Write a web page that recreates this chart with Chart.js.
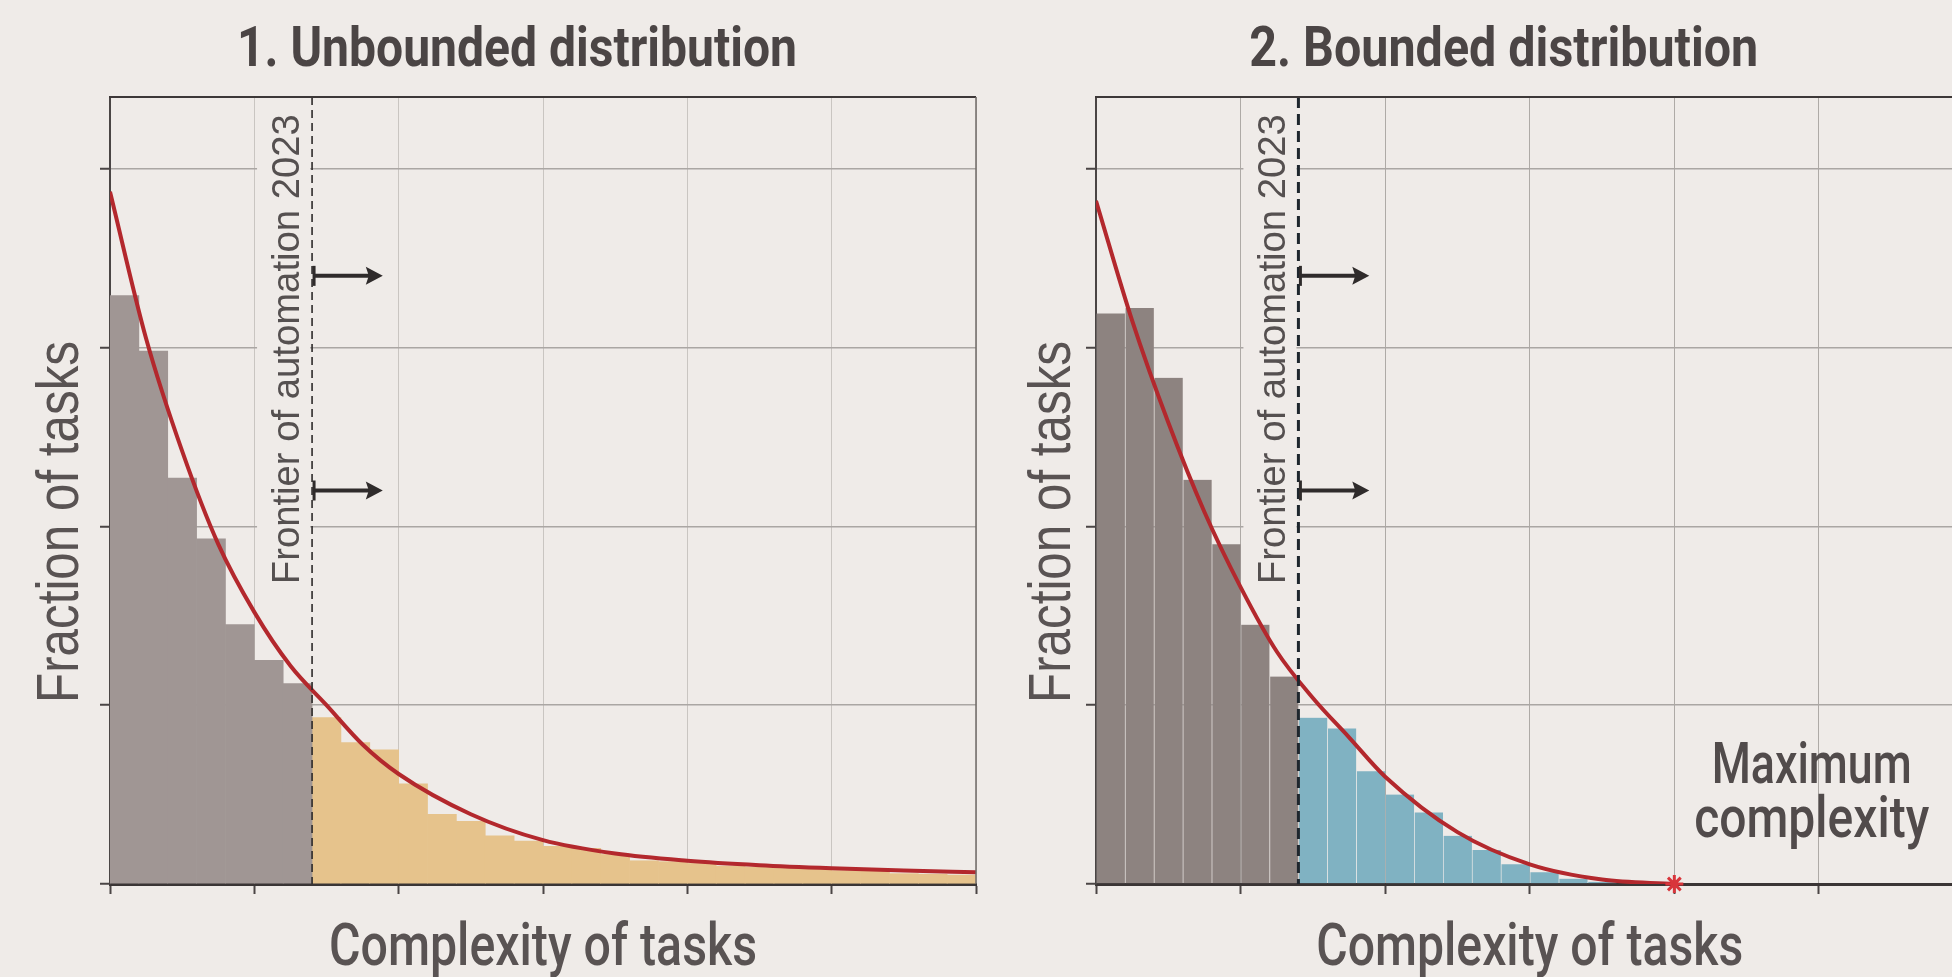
<!DOCTYPE html>
<html><head><meta charset="utf-8">
<script src="https://cdn.jsdelivr.net/npm/chart.js@4.4.0/dist/chart.umd.min.js"></script>
<style>
html,body{margin:0;padding:0;background:#efebe8;overflow:hidden;width:1952px;height:977px}
canvas{position:absolute;top:0}
#left{left:0}
#right{left:990px}
</style></head><body>
<canvas id="left" width="1000" height="977"></canvas>
<canvas id="right" width="1000" height="977"></canvas>
<script>
// ---------- data ----------
const binWidth = 0.2;
const frontier = 1.4;
const maxComplexity = 4;
const xTicks = [0, 1, 2, 3, 4, 5, 6];
const yTicks = [0, 1, 2, 3, 4];
const arrowLevels = [3.4, 2.2];

const panelTitles = ['1. Unbounded distribution', '2. Bounded distribution'];
const xAxisTitle = 'Complexity of tasks';
const yAxisTitle = 'Fraction of tasks';
const frontierLabel = 'Frontier of automation 2023';
const maxLabel = ['Maximum', 'complexity'];

const unboundedAutomated = [3.29, 2.98, 2.27, 1.93, 1.45, 1.25, 1.12];
const unboundedRemaining = [0.93, 0.79, 0.75, 0.56, 0.39, 0.35, 0.27, 0.24, 0.21, 0.20, 0.165, 0.13,
  0.125, 0.115, 0.10, 0.095, 0.09, 0.088, 0.075, 0.072, 0.058, 0.055, 0.05];
const unboundedCurveX = [0, 0.25, 0.5, 0.75, 1.0, 1.25, 1.5, 1.75, 2.0, 2.5, 3.0, 3.5, 4.0, 4.5, 5.0, 5.5, 6.0];
const unboundedCurveY = [3.87, 3.05, 2.42, 1.90, 1.52, 1.22, 1.0, 0.78, 0.615, 0.39, 0.245, 0.17, 0.13, 0.105, 0.088, 0.075, 0.065];

const boundedAutomated = [3.19, 3.22, 2.83, 2.26, 1.90, 1.45, 1.16];
const boundedRemaining = [0.93, 0.87, 0.63, 0.50, 0.40, 0.27, 0.19, 0.11, 0.065, 0.03, 0.012];
const boundedCurveX = [0, 0.25, 0.5, 0.75, 1.0, 1.25, 1.5, 1.75, 2.0, 2.5, 3.0, 3.5, 4.0];
const boundedCurveY = [3.82, 3.15, 2.58, 2.08, 1.66, 1.30, 1.04, 0.82, 0.60, 0.29, 0.11, 0.025, 0];

// ---------- helpers ----------
const BG = '#efebe8';
const RED = '#b3282d';
const SANS = '"Liberation Sans", Arial, sans-serif';
const COND = 'Roboto, "Liberation Sans", sans-serif';

function bars(values, offset) {
  return values.map((v, i) => ({ x: (offset + i + 0.5) * binWidth, y: v }));
}
function curve(xs, ys) { return xs.map((x, i) => ({ x, y: ys[i] })); }

function drawLabel(ctx, text, x, y, st) {
  ctx.save();
  ctx.font = `${st.weight || 400} ${st.size}px ${st.family}`;
  const w = ctx.measureText(text).width;
  ctx.translate(x, y);
  if (st.rotate) ctx.rotate(st.rotate);
  ctx.scale(st.width ? st.width / w : 1, 1);
  ctx.textAlign = 'center';
  ctx.textBaseline = 'alphabetic';
  ctx.fillStyle = st.color;
  ctx.fillText(text, 0, 0);
  ctx.restore();
}

const decor = {
  id: 'decor',
  beforeDatasetsDraw(chart) {
    const { ctx, scales: { x: xs, y: ys } } = chart;
    const fx = xs.getPixelForValue(frontier);
    const t = ys.getPixelForValue(4.33), b = ys.getPixelForValue(1.62);
    ctx.save();
    ctx.fillStyle = BG;
    ctx.fillRect(fx - 55, t, 53, b - t);
    ctx.restore();
  },
  afterDatasetsDraw(chart) {
    const o = chart.config.options.plugins.decor;
    const { ctx, chartArea: a, scales: { x: xs, y: ys } } = chart;
    const fx = xs.getPixelForValue(frontier);
    ctx.save();
    ctx.strokeStyle = o.dashColor;
    ctx.lineWidth = o.dashWidth;
    ctx.setLineDash(o.dash);
    ctx.beginPath(); ctx.moveTo(fx, a.top); ctx.lineTo(fx, a.bottom); ctx.stroke();
    ctx.setLineDash([]);
    ctx.strokeStyle = ctx.fillStyle = '#2f2b2b';
    for (const lv of arrowLevels) {
      const y = ys.getPixelForValue(lv);
      const x0 = fx + 2, x1 = xs.getPixelForValue(frontier + 0.49);
      ctx.lineWidth = 3;
      ctx.beginPath(); ctx.moveTo(x0, y - 10); ctx.lineTo(x0, y + 10); ctx.stroke();
      ctx.lineWidth = 4;
      ctx.beginPath(); ctx.moveTo(x0, y); ctx.lineTo(x1 - 12, y); ctx.stroke();
      ctx.beginPath(); ctx.moveTo(x1, y); ctx.lineTo(x1 - 17, y - 9); ctx.lineTo(x1 - 14, y); ctx.lineTo(x1 - 17, y + 9); ctx.closePath(); ctx.fill();
    }
    ctx.restore();
    drawLabel(ctx, frontierLabel, fx - 13, ys.getPixelForValue(2.99),
      { size: 38, family: SANS, width: 470, rotate: -Math.PI / 2, color: '#555050' });
  },
  afterDraw(chart) {
    const o = chart.config.options.plugins.decor;
    const { ctx, chartArea: a, scales: { x: xs } } = chart;
    ctx.save();
    ctx.strokeStyle = '#3d3838'; ctx.lineWidth = 2;
    ctx.beginPath(); ctx.moveTo(a.left - 1, a.top); ctx.lineTo(a.right, a.top); ctx.stroke();
    if (o.rightBorder) {
      ctx.strokeStyle = '#6f6a67'; ctx.lineWidth = 1.5;
      ctx.beginPath(); ctx.moveTo(a.right, a.top); ctx.lineTo(a.right, a.bottom); ctx.stroke();
    }
    ctx.restore();
    const cx = (a.left + a.right) / 2;
    drawLabel(ctx, o.title, cx - 26, 66, { size: 56, weight: 700, family: COND, width: o.titleWidth, color: '#4b4545' });
    drawLabel(ctx, xAxisTitle, cx, 965, { size: 60, weight: 500, family: COND, width: o.xLabelWidth, color: '#595353' });
    drawLabel(ctx, yAxisTitle, o.yLabelX, 522, { size: 60, family: SANS, width: 362, rotate: -Math.PI / 2, color: '#595353' });
    if (o.maxText) {
      const mx = xs.getPixelForValue(4.95);
      drawLabel(ctx, maxLabel[0], mx, 783, { size: 58, weight: 500, family: COND, width: 200, color: '#514b4b' });
      drawLabel(ctx, maxLabel[1], mx, 837, { size: 58, weight: 500, family: COND, width: 235, color: '#514b4b' });
    }
  }
};

function panel(id, o) {
  const sepBorder = o.sep ? { left: 1, right: 0, top: 0, bottom: 0 } : 0;
  const datasets = [
    { type: 'line', data: curve(o.cx, o.cy), borderColor: RED, borderWidth: 4, pointRadius: 0,
      cubicInterpolationMode: 'monotone', order: 0 },
    { data: bars(o.automated, 0), backgroundColor: o.grey, grouped: false, barPercentage: 1,
      categoryPercentage: 1, order: 2, borderWidth: sepBorder, borderColor: 'rgba(255,255,255,0.07)' },
    { data: bars(o.remaining, o.automated.length), backgroundColor: o.color, grouped: false, barPercentage: 1,
      categoryPercentage: 1, order: 2, borderWidth: sepBorder, borderColor: 'rgba(255,255,255,0.07)' }
  ];
  if (o.star) {
    datasets.push({ type: 'line', data: [{ x: maxComplexity, y: 0 }], pointStyle: 'star', pointRadius: 9,
      pointBorderWidth: 3, pointBorderColor: '#d8353b', pointBackgroundColor: '#d8353b', showLine: false,
      clip: false, order: -1 });
  }
  return new Chart(document.getElementById(id), {
    type: 'bar',
    data: { datasets },
    plugins: [decor],
    options: {
      responsive: false, animation: false, devicePixelRatio: 1,
      layout: { padding: { left: 0, right: o.rightPad, top: 97, bottom: 0 } },
      plugins: {
        legend: { display: false }, tooltip: { enabled: false }, title: { display: false },
        decor: { title: o.title, titleWidth: o.titleWidth, xLabelWidth: o.xLabelWidth, yLabelX: o.yLabelX,
          rightBorder: o.rightBorder, dashWidth: o.dashWidth, dash: o.dash, dashColor: o.dashColor, maxText: o.maxText }
      },
      scales: {
        x: {
          type: 'linear', min: 0, max: 6, offset: false,
          afterBuildTicks: s => { s.ticks = xTicks.map(v => ({ value: v })); },
          ticks: { display: false },
          grid: { offset: false, color: o.gridX, lineWidth: 1, tickLength: 10, tickColor: '#4a4545', tickWidth: 2 },
          border: { display: true, color: '#3a3535', width: 3 },
          afterFit: s => { s.height = 93; }
        },
        y: {
          type: 'linear', min: 0, max: 4.4,
          afterBuildTicks: s => { s.ticks = yTicks.map(v => ({ value: v })); },
          ticks: { display: false },
          grid: { color: '#aaa6a3', lineWidth: 1.5, tickLength: 10, tickColor: '#4a4545', tickWidth: 2 },
          border: { display: true, color: '#4a4545', width: 2 },
          afterFit: s => { s.width = o.areaLeft; }
        }
      }
    }
  });
}

panel('left', {
  title: panelTitles[0], titleWidth: 560, xLabelWidth: 428, yLabelX: 78,
  areaLeft: 110, rightPad: 24, rightBorder: true,
  dashWidth: 1.6, dash: [8, 5], dashColor: '#2e2a2a',
  grey: '#a09694', color: '#e6c38c', gridX: '#c9c5c1', sep: false,
  automated: unboundedAutomated, remaining: unboundedRemaining,
  cx: unboundedCurveX, cy: unboundedCurveY, star: false, maxText: false
});
panel('right', {
  title: panelTitles[1], titleWidth: 509, xLabelWidth: 427, yLabelX: 80,
  areaLeft: 106, rightPad: 26.5, rightBorder: false,
  dashWidth: 3, dash: [11, 6], dashColor: '#1e262d',
  grey: '#8d8380', color: '#80b2c2', gridX: '#aeaaa6', sep: true,
  automated: boundedAutomated, remaining: boundedRemaining,
  cx: boundedCurveX, cy: boundedCurveY, star: true, maxText: true
});
</script>
</body></html>
